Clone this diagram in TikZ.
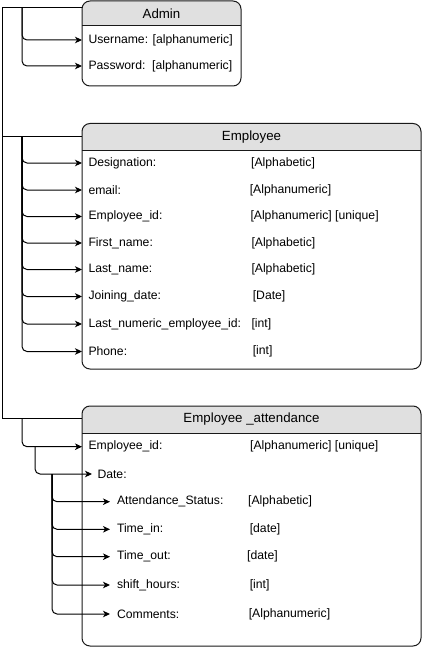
\documentclass[tikz,border=0pt]{standalone}
\usepackage{fontspec}
\setmainfont{Liberation Sans}
\usetikzlibrary{arrows.meta}
\begin{document}
\begin{tikzpicture}[x=1pt,y=-1pt,
  font=\fontsize{12.2}{14}\selectfont,
  line width=1pt,
  tbl/.style={minimum width=339pt, inner sep=0pt, outer sep=0pt, rectangle},
  outline/.style={draw=black!90, rounded corners=8pt},
  hdr/.style={fill=black!12},
  ttl/.style={font=\fontsize{13.3}{15}\selectfont},
  lbl/.style={anchor=west, inner xsep=6pt, inner ysep=0pt},
  typ/.style={anchor=west, inner sep=0pt},
  link/.style={draw, rounded corners=5pt, -{Stealth[length=7pt,width=6.5pt,inset=2pt]}},
  wire/.style={draw}
]
\useasboundingbox (0,0) rectangle (422,650);

% ---- boxes
\node[tbl, minimum width=159pt, minimum height=85pt] (admin) at (161.5,43.5) {};
\node[tbl, minimum height=245.5pt] (emp) at (251.5,246.25) {};
\node[tbl, minimum height=240pt] (att) at (251.5,526) {};

\foreach \b/\h in {admin/26, emp/150, att/433}{
  \begin{scope}
    \clip[rounded corners=8pt] (\b.south west) rectangle (\b.north east);
    \fill[hdr] (\b.north west) rectangle (\b.east |- 0,\h);
  \end{scope}
  \draw[black!90] (\b.west |- 0,\h) -- (\b.east |- 0,\h);
  \draw[outline] (\b.south west) rectangle (\b.north east);
}

\node[ttl] (tadmin) at (161.5,13.5) {Admin};
\node[ttl] (temp) at (251.5,136.75) {Employee};
\node[ttl] (tatt) at (251.5,419.5) {Employee \_attendance};

% ---- admin rows
\node[lbl] (user) at (82,40) {Username: [alphanumeric]};
\node[lbl] (pass) at (82,66) {Password:\ \ [alphanumeric]};

% ---- employee rows
\node[lbl] (desig) at (82,163) {Designation:};
\node[lbl] (email) at (82,190) {email:};
\node[lbl] (eid) at (82,216.5) {Employee\_id:};
\node[lbl] (fname) at (82,243) {First\_name:};
\node[lbl] (lname) at (82,269.5) {Last\_name:};
\node[lbl] (jdate) at (82,296.5) {Joining\_date:};
\node[lbl] (lnum) at (82,324) {Last\_numeric\_employee\_id:};
\node[lbl] (phone) at (82,351.5) {Phone:};

\node[typ] (tdesig) at (250.7,163) {[Alphabetic]};
\node[typ] (temail) at (249.3,190) {[Alphanumeric]};
\node[typ] (teid) at (250,216.5) {[Alphanumeric] [unique]};
\node[typ] (tfname) at (251,243) {[Alphabetic]};
\node[typ] (tlname) at (251,269.5) {[Alphabetic]};
\node[typ] (tjdate) at (252.3,296.5) {[Date]};
\node[typ] (tlnum) at (251,324) {[int]};
\node[typ] (tphone) at (252.3,351.5) {[int]};

% ---- attendance rows
\node[lbl] (aeid) at (82,446.7) {Employee\_id:};
\node[lbl, inner xsep=5pt] (date) at (92,474) {Date:};
\node[lbl, inner xsep=6.5pt] (astat) at (110,501.7) {Attendance\_Status:};
\node[lbl, inner xsep=6.5pt] (tin) at (110,529.3) {Time\_in:};
\node[lbl, inner xsep=6.5pt] (tout) at (110,556.7) {Time\_out:};
\node[lbl, inner xsep=6.5pt] (shift) at (110,585) {shift\_hours:};
\node[lbl, inner xsep=6.5pt] (comm) at (110,614) {Comments:};

\node[typ] (taeid) at (249.7,446.7) {[Alphanumeric] [unique]};
\node[typ] (tastat) at (247.7,501.7) {[Alphabetic]};
\node[typ] (ttin) at (249.3,529.3) {[date]};
\node[typ] (ttout) at (246.7,556.7) {[date]};
\node[typ] (tshift) at (249.3,585) {[int]};
\node[typ] (tcomm) at (248.3,614) {[Alphanumeric]};

% ---- main trunk
\coordinate (root) at (2,8);
\coordinate (ra) at (82,8);
\coordinate (re) at (82,136);
\coordinate (rt) at (82,418);
\draw[wire] (ra) -- (root) |- (rt);
\draw[wire] (root |- re) -- (re);

% ---- admin branch
\coordinate (ba) at (22,8);
\foreach \r in {user,pass}{
  \draw[link] (ba) |- (\r.west);
}

% ---- employee branch
\coordinate (be) at (22,136);
\foreach \r in {desig,email,eid,fname,lname,jdate,lnum,phone}{
  \draw[link] (be) |- (\r.west);
}

% ---- attendance branch
\coordinate (bt) at (22,418);
\coordinate (bd) at (35,446.7);
\coordinate (bs) at (52,474);
\draw[link] (bt) |- (aeid.west);
\draw[link] (bd) |- (date.west);
\foreach \r in {astat,tin,tout,shift,comm}{
  \draw[link] (bs) |- (\r.west);
}
\end{tikzpicture}
\end{document}
